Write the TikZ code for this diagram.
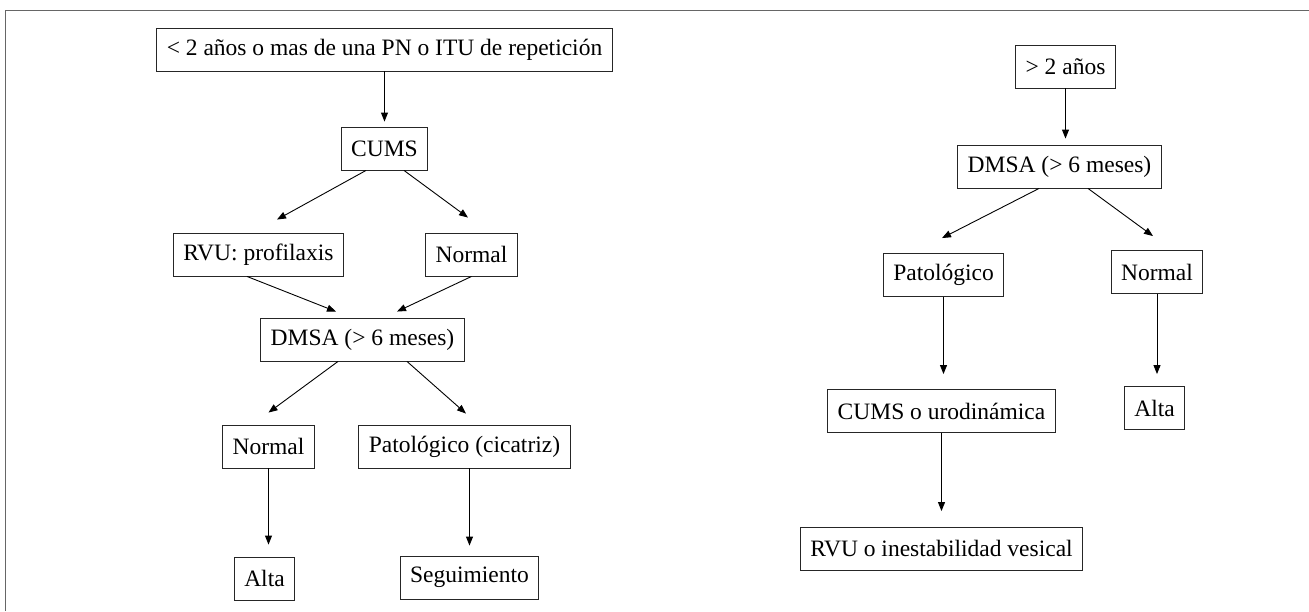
\documentclass[tikz,border=0pt]{standalone}
\usepackage{fontspec}
\setmainfont{Liberation Serif}
\usetikzlibrary{arrows.meta,positioning}
\tikzset{
  caja/.style={rectangle, draw=black!85, line width=0.9pt, minimum height=43pt,
    inner xsep=10pt, font=\fontsize{23.5pt}{27pt}\selectfont},
}
\begin{document}
\begin{tikzpicture}[x=1pt,y=-1pt,>={Triangle[length=9pt,width=7pt]},line width=0.9pt]
	\useasboundingbox (0,0) rectangle (1309,611);
	\draw[black!60] (5,611) -- (5,10) -- (1309,10);

	% menores de 2 a\~nos
	\node (ini) [caja] at (384.5,49.5) {< 2 años o mas de una PN o ITU de repetición};
	\node (cums) [caja, node distance=99pt, below of=ini] {CUMS};
	\node (rvu) [caja, node distance=106pt, below of=cums, xshift=-126pt] {RVU: profilaxis};
	\node (normA) [caja, node distance=213pt, right of=rvu] {Normal};
	\node (dmsaA) [caja, node distance=85pt, below of=rvu, xshift=104pt] {DMSA (> 6 meses)};
	\node (normB) [caja, node distance=107pt, below of=dmsaA, xshift=-94pt] {Normal};
	\node (patA) [caja, node distance=196pt, right of=normB] {Patológico (cicatriz)};
	\node (altaA) [caja, node distance=132pt, below of=normB, xshift=-4pt] {Alta};
	\node (seg) [caja, node distance=131pt, below of=patA, xshift=5pt] {Seguimiento};

	\draw[->, shorten >=5pt] (ini) -- (cums);
	\draw[->] ([xshift=-18.5pt]cums.south) -- ([xshift=18.5pt,yshift=13pt]rvu.north);
	\draw[->] ([xshift=19.5pt]cums.south) -- ([xshift=-3.5pt,yshift=15pt]normA.north);
	\draw[->] ([xshift=-11.5pt]rvu.south) -- ([xshift=-26.5pt,yshift=6pt]dmsaA.north);
	\draw[->] (normA.south) -- ([xshift=34.5pt,yshift=6pt]dmsaA.north);
	\draw[->] ([xshift=-24.5pt]dmsaA.south) -- ([yshift=12pt]normB.north);
	\draw[->] ([xshift=44.5pt]dmsaA.south) -- ([xshift=1.5pt,yshift=11pt]patA.north);
	\draw[->, shorten >=12pt] (normB.south) -- (normB.south |- altaA.north);
	\draw[->, shorten >=10pt] (patA.south -| seg) -- (seg.north);

	% mayores de 2 a\~nos
	\node (ini2) [caja] at (1065.5,66.5) {> 2 años};
	\node (dmsaB) [caja, node distance=100pt, below of=ini2, xshift=-6pt] {DMSA (> 6 meses)};
	\node (patB) [caja, node distance=108.5pt, below of=dmsaB, xshift=-116pt] {Patológico};
	\node (normC) [caja, node distance=105.5pt, below of=dmsaB, xshift=97.5pt] {Normal};
	\node (cumsB) [caja, node distance=136pt, below of=patB, xshift=-2pt] {CUMS o urodinámica};
	\node (altaB) [caja, node distance=136pt, below of=normC, xshift=-2.5pt] {Alta};
	\node (rvuB) [caja, node distance=138pt, below of=cumsB] {RVU o inestabilidad vesical};

	\draw[->, shorten >=6pt] (ini2.south) -- (ini2.south |- dmsaB.north);
	\draw[->] ([xshift=-20.5pt]dmsaB.south) -- ([xshift=-1.5pt,yshift=15pt]patB.north);
	\draw[->] ([xshift=28.5pt]dmsaB.south) -- ([xshift=-4pt,yshift=14pt]normC.north);
	\draw[->, shorten >=15pt] (patB.south) -- (patB.south |- cumsB.north);
	\draw[->, shorten >=12pt] (normC.south) -- (normC.south |- altaB.north);
	\draw[->, shorten >=16pt] (cumsB) -- (rvuB);
\end{tikzpicture}
\end{document}
